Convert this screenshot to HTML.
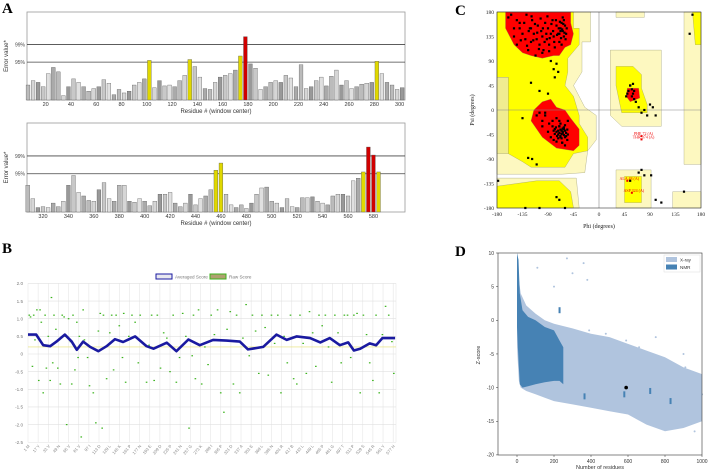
<!DOCTYPE html>
<html><head><meta charset="utf-8"><style>
html,body{margin:0;padding:0;background:#fff;}
svg{display:block;font-family:"Liberation Sans",Arial,sans-serif;}
.pl{font-family:"Liberation Serif",serif;font-weight:bold;font-size:15px;}
</style></head><body>
<svg id="fig" width="708" height="472" viewBox="0 0 708 472" xmlns="http://www.w3.org/2000/svg">
<text class="pl" x="2" y="13">A</text>
<text class="pl" x="2" y="253">B</text>
<text class="pl" x="455" y="15">C</text>
<text class="pl" x="455" y="256">D</text>
<g id="gA"></g>
<g id="gB"></g>
<g id="gC"></g>
<g id="gD"></g>
</svg>
<script>
// ===== Panel A data =====
const aTopStart = 6, aStep = 4;
const aTopValues = [0.17,0.22,0.2,0.15,0.3,0.37,0.32,0.05,0.15,0.24,0.2,0.15,0.1,0.13,0.15,0.23,0.19,0.06,0.12,0.08,0.1,0.17,0.2,0.24,0.45,0.14,0.22,0.16,0.17,0.15,0.22,0.28,0.46,0.38,0.26,0.13,0.12,0.2,0.26,0.28,0.3,0.34,0.5,0.72,0.41,0.36,0.12,0.15,0.2,0.22,0.2,0.28,0.25,0.15,0.4,0.13,0.15,0.22,0.26,0.16,0.27,0.34,0.17,0.22,0.13,0.15,0.18,0.19,0.2,0.44,0.3,0.2,0.17,0.12,0.14];
const aTopTicks = [20,40,60,80,100,120,140,160,180,200,220,240,260,280,300];
const aBotStart = 308;
const aBotValues = [0.3,0.15,0.05,0.06,0.05,0.1,0.06,0.12,0.3,0.41,0.22,0.18,0.13,0.12,0.25,0.33,0.15,0.12,0.3,0.3,0.12,0.11,0.15,0.12,0.07,0.12,0.2,0.2,0.22,0.1,0.06,0.1,0.2,0.08,0.15,0.18,0.25,0.47,0.55,0.2,0.08,0.05,0.08,0.04,0.1,0.2,0.27,0.28,0.12,0.1,0.05,0.15,0.06,0.05,0.16,0.16,0.17,0.12,0.1,0.08,0.18,0.2,0.2,0.18,0.35,0.38,0.45,0.73,0.64,0.45];
const aBotTicks = [320,340,360,380,400,420,440,460,480,500,520,540,560,580];
const aThresholds = [0.43,0.63];
const aThreshLabels = ["95%","99%"];

// ===== Panel B data =====
const bAvgRes = [1,14,25,36,46,59,70,78,88,99,112,125,138,151,170,188,199,220,235,254,272,293,314,335,348,372,393,409,425,446,462,477,493,506,515,525,540,550,560,570,580];
const bAvgVal = [0.55,0.55,0.25,0.22,0.35,0.55,0.35,0.12,0.35,0.2,0.08,0.22,0.42,0.34,0.5,0.22,0.15,0.32,0.08,0.41,0.25,0.4,0.38,0.35,0.13,0.2,0.55,0.4,0.5,0.45,0.33,0.45,0.25,0.33,0.1,0.15,0.3,0.25,0.45,0.45,0.45];
const bRawRes = [3,5,8,10,12,15,18,20,22,25,28,30,33,36,38,40,42,45,48,50,52,55,58,60,62,65,68,70,72,75,78,80,82,85,88,90,95,98,100,104,108,112,115,118,120,125,130,133,136,140,145,150,152,155,160,165,170,175,178,182,188,192,196,200,205,210,215,220,225,230,235,240,245,250,255,260,262,265,270,275,280,285,290,295,300,305,310,315,320,325,330,335,340,345,350,355,360,365,370,375,380,385,390,395,400,405,410,415,420,425,430,435,440,445,450,455,460,465,470,475,480,485,490,495,500,505,510,515,520,525,530,535,540,545,550,555,560,565,570,575,578];
const bRawVal = [1.1,1.05,-0.35,1.1,0.4,1.25,-0.75,1.25,0.9,-1.1,1.1,-0.4,0.5,-0.75,1.6,-0.25,1.1,0.7,-0.4,0.4,-0.85,1.1,1.05,0.5,-2.0,1.0,0.35,-0.85,1.1,-0.45,0.9,-0.1,0.5,-2.35,1.25,0.4,-0.1,-0.9,0.2,-1.1,-1.95,0.65,1.15,-2.1,1.1,-0.7,0.6,1.1,-0.45,1.1,0.8,-0.1,1.15,-0.8,0.5,1.1,0.9,-0.25,1.1,0.3,-0.8,0.25,1.1,-0.75,1.1,-0.4,0.6,0.45,-0.5,1.1,-0.8,-0.1,1.15,0.5,-2.1,-0.05,1.1,-0.7,1.25,-0.85,0.2,-0.3,1.1,0.55,1.25,-1.1,-1.65,0.7,1.2,-0.85,1.1,-1.1,0.45,1.4,-0.05,1.1,0.65,-0.55,1.1,0.75,-0.6,1.1,0.3,1.1,-1.1,0.5,-0.25,1.1,-0.7,-0.85,1.1,0.3,-0.55,1.2,0.6,-0.35,1.1,0.8,1.1,0.2,-0.8,1.1,0.6,-0.25,1.1,1.1,-0.1,1.1,1.15,-1.1,1.1,0.55,-0.25,-0.75,1.1,-1.1,0.55,1.35,1.1,0.35,-0.55,1.1,1.05];
const bTickVals = [2.0,1.5,1.0,0.5,0,-0.5,-1.0,-1.5,-2.0,-2.5];
const bTickLabels = ["2.0","1.5","1.0","0.5","0","-0.5","-1.0","-1.5","-2.0","-2.5"];
const bXLabelRes = [1,17,33,49,65,81,97,113,129,145,161,177,193,209,225,241,257,273,289,305,321,337,353,369,385,401,417,433,449,465,481,497,513,529,545,561,577];
const bXLabelAA = ["M","Y","V","N","V","V","I","D","L","K","P","N","E","D","P","N","G","K","I","P","D","A","E","L","N","R","B","L","L","P","G","T","P","S","R","Y","H"];

// ===== Panel C data =====
const cPhi = [-160,-150,-145,-140,-135,-130,-128,-125,-122,-120,-118,-115,-112,-110,-108,-105,-102,-100,-98,-95,-92,-90,-88,-85,-82,-80,-78,-75,-72,-70,-68,-66,-64,-62,-60,-58,-120,-105,-90,-80,-75,-72,-78,-85,-110,-100,-95,-88,-82,-78,-75,-72,-70,-68,-66,-64,-62,-60,-58,-56,-65,-70,-75,-80,-60,-55,-125,-118,-135,-178,-110,-75,-70,-60,55,58,60,62,65,70,75,80,85,52,48,90,95,100,110,150,160,165,70,75,80,92,55,100,-130,-105,
-145,-140,-138,-132,-127,-124,-119,-116,-113,-109,-106,-103,-99,-96,-93,-91,-87,-84,-81,-79,-76,-74,-71,-69,-67,-65,-63,-61,-59,-57,-66,-70,-64,-150,-155,-100,-120,-88,-62,-68,
-72,-70,-68,-66,-64,-62,-60,-74,-76,-66,-62,-58,-70,-78,-68,-64,-60,-56,-72,-80,-95,-100,-105,-90,-85,-82,-55,-75,-65,-68,55,60,62,50,58];
const cPsi = [170,150,120,160,140,130,175,110,150,125,165,140,100,130,155,120,145,135,110,160,130,150,120,140,165,135,115,155,140,125,150,160,145,135,155,140,50,35,30,75,85,70,60,90,-10,-20,-5,-25,-30,-35,-40,-45,-30,-50,-38,-42,-35,-28,-48,-55,-60,-20,-15,-55,-65,-20,-88,-90,-15,-130,-100,-160,-165,-180,45,38,30,20,15,5,-5,0,-10,35,25,10,5,-10,-170,-150,140,175,-115,-110,-120,-120,-130,-165,-180,-180,
165,150,128,160,118,145,172,128,158,142,112,168,150,125,140,172,132,158,145,125,165,138,150,162,132,148,158,142,130,150,120,140,170,135,175,105,150,108,165,145,
-38,-42,-36,-44,-40,-46,-38,-48,-32,-52,-32,-42,-30,-44,-48,-34,-50,-36,-52,-38,-10,-30,-5,-40,-50,-20,-45,-58,-60,-25,45,48,35,30,25];
const cFlagPhi = [75,75,50,58];
const cFlagPsi = [-48,-54,-130,-152];
const cFlagLabels = ["PHE 72 (A)","THR 374 (A)","ALA 48 (A)","ASP 324 (A)"];
const cTicks = [-180,-135,-90,-45,0,45,90,135,180];

// ===== Panel D data =====
const dXrayN = [0,10,20,50,100,150,200,300,400,500,600,700,800,900,1000];
const dXrayHi = [10,6,4,2.2,1,0,-0.5,-1.2,-2,-2.5,-3.5,-4.5,-5.5,-7,-8];
const dXrayLo = [-4,-9,-10,-10.5,-11,-11.5,-12,-12.5,-13,-13.5,-14,-15.5,-16.5,-16,-15];
const dNmrN = [0,8,15,30,60,100,150,200,230,250];
const dNmrHi = [10,9,4,1.5,0.5,0,-1,-1.5,-3,-4];
const dNmrLo = [-1,-6,-9.5,-10,-9.8,-9.5,-9.2,-9,-9,-9.5];
const dOutN = [110,200,270,300,360,380,390,480,590,660,720,750,800,850,900,910,945,960,980,1000,580,720,830,300,365];
const dOutZ = [7.8,5,9.2,7,8.5,6,-1.5,-2,-3,-4,-5,-2.5,-10.5,-16,-5,-7,-13,-16.5,-9,-11,-11,-10.5,-12,-10.3,-11.5];
const dNmrOutN = [720,830,365,580,230];
const dNmrOutZ = [-10.5,-12,-11.3,-11,1.5];
const dModelN = [590];
const dModelZ = [-10];
const dYTicks = [10,5,0,-5,-10,-15,-20];
const dXTicks = [0,200,400,600,800,1000];

const NS = "http://www.w3.org/2000/svg";
function mk(parent, tag, attrs, txt){
  const e = document.createElementNS(NS, tag);
  for (const k in attrs) e.setAttribute(k, attrs[k]);
  if (txt !== undefined) e.textContent = txt;
  parent.appendChild(e);
  return e;
}

// ===== Panel A render =====
(function(){
  const g = document.getElementById('gA');
  function panel(y0, y1, start, values, ticks, xOf, nm){
    const L = 27, R = 405;
    const box = mk(g,'rect',{x:L,y:y0,width:R-L,height:y1-y0,fill:'#fff',stroke:'#999','stroke-width':0.8});
    
    
    const yOf = v => y1 - v*(y1-y0);
    aThresholds.forEach((t,i)=>{
      const ln = mk(g,'line',{x1:L,x2:R,y1:yOf(t),y2:yOf(t),stroke:'#444','stroke-width':0.8});
      
      
      const tx = mk(g,'text',{x:L-2,y:yOf(t)+2,'font-size':5,'text-anchor':'end',fill:'#444'},aThreshLabels[i]);
      
      
    });
    const shades = ['#bbb','#d6d6d6','#999','#c8c8c8','#e0e0e0','#aaa'];
    values.forEach((v,i)=>{
      const r = start + i*aStep;
      const x = xOf(r);
      let col = shades[i%shades.length];
      if (v >= aThresholds[1]) col = '#d00000';
      else if (v >= aThresholds[0]) col = '#e0d800';
      const b = mk(g,'rect',{x:x-1.9,y:yOf(v),width:3.8,height:y1-yOf(v),fill:col,stroke:'#555','stroke-width':0.35});
      
      
    });
    ticks.forEach(t=>{
      const tx = mk(g,'text',{x:xOf(t),y:y1+6,'font-size':5.5,'text-anchor':'middle',fill:'#333'},String(t));
      
      
    });
    const tt = mk(g,'text',{x:216,y:y1+13,'font-size':6,'text-anchor':'middle',fill:'#333'},'Residue # (window center)');
    
    
    const yt = mk(g,'text',{x:0,y:0,'font-size':6,'text-anchor':'middle',fill:'#333',transform:`translate(8,${(y0+y1)/2}) rotate(-90)`},'Error value*');
    
    
  }
  panel(12,100,aTopStart,aTopValues,aTopTicks,r=>45.7+(r-20)*1.264,'errat-top');
  panel(123,212,aBotStart,aBotValues,aBotTicks,r=>43+(r-320)*1.271,'errat-bottom');
})();

// ===== Panel B render =====
(function(){
  const g = document.getElementById('gB');
  const L = 28, R = 396, T = 283.4;
  const xOf = r => L + (r-1)*0.634;
  const yOf = v => 354 - v*35.3;
  const B = yOf(-2.5);
  bXLabelRes.forEach(r=>{
    const l = mk(g,'line',{x1:xOf(r),x2:xOf(r),y1:T,y2:B,stroke:'#e6e6e6','stroke-width':0.6});
    
    
  });
  mk(g,'line',{x1:R,x2:R,y1:T,y2:B,stroke:'#e6e6e6','stroke-width':0.6});
  bTickVals.forEach((v,i)=>{
    const l = mk(g,'line',{x1:L,x2:R,y1:yOf(v),y2:yOf(v),stroke:'#e0e0e0','stroke-width':0.6});
    
    
    const t = mk(g,'text',{x:L-5,y:yOf(v)+1.7,'font-size':4.6,'text-anchor':'end',fill:'#777'},bTickLabels[i]);
    
    
  });
  const th = mk(g,'line',{x1:L,x2:R,y1:yOf(0.2),y2:yOf(0.2),stroke:'#e6e070','stroke-width':0.6});
  
  
  bRawRes.forEach((r,i)=>{
    const c = mk(g,'rect',{x:xOf(r)-0.8,y:yOf(bRawVal[i])-0.6,width:1.6,height:1.2,fill:'#3cb31e'});
    
    
  });
  const pts = bAvgRes.map((r,i)=>xOf(r).toFixed(1)+','+yOf(bAvgVal[i]).toFixed(1)).join(' ');
  const pl = mk(g,'polyline',{points:pts,fill:'none',stroke:'#1a1aa0','stroke-width':2.6,'stroke-linejoin':'round'});
  
  
  bXLabelRes.forEach((r,i)=>{
    const x = xOf(r), y = B+4;
    const t = mk(g,'text',{x:0,y:0,'font-size':4.2,'text-anchor':'end',fill:'#888',transform:`translate(${x+2},${y}) rotate(-50)`},r+' '+bXLabelAA[i]);
    
    
  });
  const l1 = mk(g,'rect',{x:156,y:274,width:16,height:5,fill:'#e8e8f0',stroke:'#1a1aa0','stroke-width':1});
  
  
  const lt1 = mk(g,'text',{x:175,y:278.5,'font-size':4.6,fill:'#777'},'Averaged Score');
  
  
  const l2 = mk(g,'rect',{x:210,y:274,width:16,height:5,fill:'#b0a070',stroke:'#3cb31e','stroke-width':1});
  
  
  const lt2 = mk(g,'text',{x:229,y:278.5,'font-size':4.6,fill:'#777'},'Raw Score');
  
  
})();

// ===== Panel C render =====
(function(){
  const g = document.getElementById('gC');
  const L=497,R=701,T=12,B=208;
  const xOf = p => L + (p+180)*(R-L)/360;
  const yOf = s => T + (180-s)*(B-T)/360;
  function poly(pts, fill, nm){
    const p = mk(g,'polygon',{points:pts.map(q=>xOf(q[0]).toFixed(1)+','+yOf(q[1]).toFixed(1)).join(' '),fill:fill,stroke:'#8a8a60','stroke-width':0.3});
    
    
  }
  const bg = mk(g,'rect',{x:L,y:T,width:R-L,height:B-T,fill:'#fff'});
  
  
  const GEN='#fdf8c0', ALW='#ffff00', CORE='#ff0000';
  poly([[-180,180],[-15,180],[-15,125],[-30,125],[-30,70],[-45,45],[-25,5],[-5,-10],[-5,-55],[-20,-75],[-25,-115],[-65,-118],[-180,-118]],GEN,'generous-region');
  poly([[-180,-125],[-40,-125],[-35,-180],[-180,-180]],GEN,'generous-region');
  poly([[20,110],[110,110],[110,-30],[40,-30],[20,-10]],GEN,'generous-region');
  poly([[150,180],[180,180],[180,-100],[150,-100]],GEN,'generous-region');
  poly([[30,-110],[92,-110],[92,-180],[30,-180]],GEN,'generous-region');
  poly([[130,-150],[180,-150],[180,-180],[130,-180]],GEN,'generous-region');
  poly([[30,180],[80,180],[80,170],[30,170]],GEN,'generous-region');
  poly([[-180,180],[-45,180],[-45,150],[-35,150],[-35,120],[-55,95],[-55,70],[-60,45],[-45,25],[-35,-10],[-35,-25],[-20,-50],[-20,-75],[-45,-80],[-60,-105],[-120,-105],[-135,-95],[-160,-80],[-160,60],[-180,60]],ALW,'allowed-region');
  poly([[-180,60],[-160,60],[-160,-80],[-180,-80]],'#f0ec90','generous-region');
  poly([[-180,-140],[-110,-130],[-70,-130],[-50,-150],[-45,-180],[-180,-180]],ALW,'allowed-region');
  poly([[30,80],[60,80],[75,65],[75,40],[85,10],[85,-5],[40,-5],[35,20],[30,45]],ALW,'allowed-region');
  poly([[165,180],[180,180],[180,120],[170,120]],ALW,'allowed-region');
  poly([[45,-122],[75,-122],[75,-170],[45,-170]],ALW,'allowed-region');
  poly([[-165,180],[-50,180],[-50,160],[-45,140],[-50,120],[-60,115],[-70,100],[-80,100],[-100,95],[-120,100],[-135,105],[-150,120],[-165,150]],CORE,'core-region');
  poly([[-115,0],[-100,15],[-85,20],[-75,5],[-60,0],[-50,-15],[-35,-35],[-35,-65],[-45,-75],[-75,-70],[-100,-50],[-120,-20]],CORE,'core-region');
  poly([[50,40],[70,40],[72,22],[55,15],[48,25]],CORE,'core-region');
  mk(g,'line',{x1:xOf(0),x2:xOf(0),y1:T,y2:B,stroke:'#888','stroke-width':0.6});
  mk(g,'line',{x1:L,x2:R,y1:yOf(0),y2:yOf(0),stroke:'#888','stroke-width':0.6});
  mk(g,'rect',{x:L,y:T,width:R-L,height:B-T,fill:'none',stroke:'#333','stroke-width':0.6});
  cPhi.forEach((p,i)=>{
    const d = mk(g,'rect',{x:xOf(p)-1.1,y:yOf(cPsi[i])-1.1,width:2.2,height:2.2,fill:'#000'});
    
    
  });
  cFlagPhi.forEach((p,i)=>{
    const d = mk(g,'rect',{x:xOf(p)-1,y:yOf(cFlagPsi[i])-1,width:2,height:2,fill:'#e00'});
    
    
    const t = mk(g,'text',{x:xOf(p)+2,y:yOf(cFlagPsi[i])-1,'font-size':4,'text-anchor':'middle',fill:'#e00','font-family':'Liberation Serif,serif'},cFlagLabels[i]);
    
    
  });
  cTicks.forEach(t=>{
    const a = mk(g,'text',{x:xOf(t),y:B+8,'font-size':5.5,'text-anchor':'middle',fill:'#222','font-family':'Liberation Serif,serif'},String(t));
    
    
    const b = mk(g,'text',{x:L-3,y:yOf(t)+2,'font-size':5.5,'text-anchor':'end',fill:'#222','font-family':'Liberation Serif,serif'},String(t));
    
    
  });
  const xt = mk(g,'text',{x:599,y:228,'font-size':6,'text-anchor':'middle',fill:'#222','font-family':'Liberation Serif,serif'},'Phi (degrees)');
  
  
  const yt = mk(g,'text',{x:0,y:0,'font-size':6,'text-anchor':'middle',fill:'#222','font-family':'Liberation Serif,serif',transform:'translate(474,110) rotate(-90)'},'Psi (degrees)');
  
  
})();

// ===== Panel D render =====
(function(){
  const g = document.getElementById('gD');
  const L=498,R=702,T=253,B=455;
  const xOf = n => 517 + n*0.185;
  const yOf = z => T + (10-z)*6.73;
  mk(g,'rect',{x:L,y:T,width:R-L,height:B-T,fill:'#fff'});
  function area(ns, hi, lo, fill, nm){
    const up = ns.map((n,i)=>xOf(n).toFixed(1)+','+yOf(hi[i]).toFixed(1));
    const dn = ns.map((n,i)=>xOf(n).toFixed(1)+','+yOf(lo[i]).toFixed(1)).reverse();
    const p = mk(g,'polygon',{points:up.concat(dn).join(' '),fill:fill});
    
    
  }
  area(dXrayN,dXrayHi,dXrayLo,'#b0c4de','xray-distribution');
  dOutN.forEach((n,i)=>{
    const c = mk(g,'circle',{cx:xOf(n),cy:yOf(dOutZ[i]),r:1,fill:'#b0c4de'});
    
    
  });
  area(dNmrN,dNmrHi,dNmrLo,'#4682b4','nmr-distribution');
  dNmrOutN.forEach((n,i)=>{
    const c = mk(g,'rect',{x:xOf(n)-1,y:yOf(dNmrOutZ[i])-3,width:2,height:6,fill:'#4682b4'});
    
    
  });
  dModelN.forEach((n,i)=>{
    const c = mk(g,'circle',{cx:xOf(n),cy:yOf(dModelZ[i]),r:1.8,fill:'#000'});
    
    
  });
  mk(g,'rect',{x:L,y:T,width:R-L,height:B-T,fill:'none',stroke:'#333','stroke-width':0.6});
  dYTicks.forEach(z=>{
    mk(g,'line',{x1:L-2,x2:L,y1:yOf(z),y2:yOf(z),stroke:'#333','stroke-width':0.5});
    const t = mk(g,'text',{x:L-4,y:yOf(z)+1.8,'font-size':5,'text-anchor':'end',fill:'#333'},String(z));
    
    
  });
  dXTicks.forEach(n=>{
    mk(g,'line',{x1:xOf(n),x2:xOf(n),y1:B,y2:B+2,stroke:'#333','stroke-width':0.5});
    const t = mk(g,'text',{x:xOf(n),y:B+8,'font-size':5,'text-anchor':'middle',fill:'#333'},String(n));
    
    
  });
  const xt = mk(g,'text',{x:600,y:469,'font-size':5.5,'text-anchor':'middle',fill:'#333'},'Number of residues');
  
  
  const yt = mk(g,'text',{x:0,y:0,'font-size':5.5,'text-anchor':'middle',fill:'#333',transform:'translate(480,355) rotate(-90)'},'Z-score');
  
  
  const lg = mk(g,'rect',{x:664,y:255,width:36,height:17,fill:'#fff',stroke:'#ddd','stroke-width':0.5});
  
  
  const s1 = mk(g,'rect',{x:666,y:257,width:11,height:5,fill:'#b0c4de'});
  
  
  const t1 = mk(g,'text',{x:680,y:261.5,'font-size':4.6,fill:'#333'},'X-ray');
  
  
  const s2 = mk(g,'rect',{x:666,y:264.5,width:11,height:5,fill:'#4682b4'});
  
  
  const t2 = mk(g,'text',{x:680,y:269,'font-size':4.6,fill:'#333'},'NMR');
  
  
})();
</script>
</body></html>
